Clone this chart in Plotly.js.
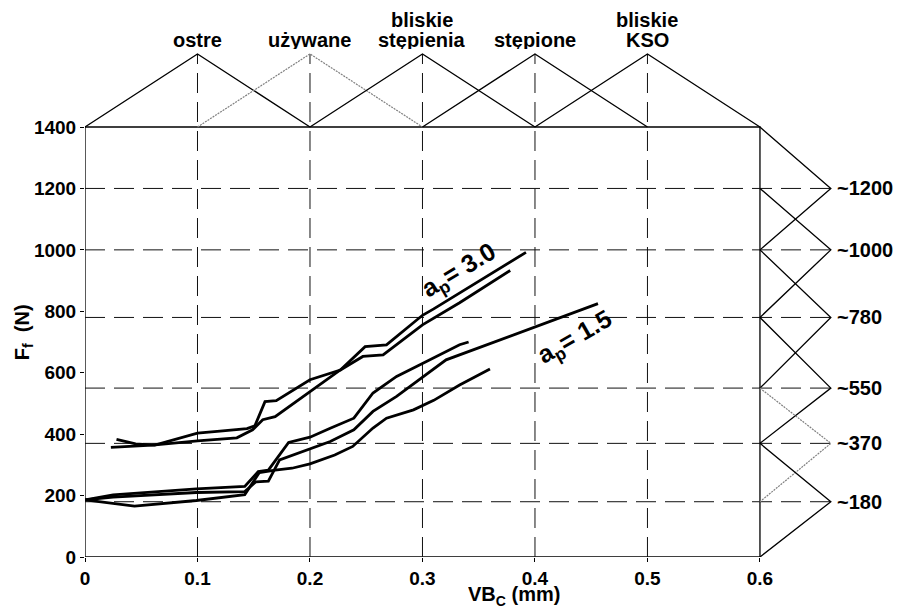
<!DOCTYPE html>
<html><head><meta charset="utf-8">
<script src="https://cdn.plot.ly/plotly-3.0.1.min.js"></script>
<style>html,body{margin:0;padding:0;background:#fff}#chart{width:901px;height:611px}</style>
</head><body><div id="chart"></div>
<script>
// ---- data ----
// a_p = 3.0 (two runs)
const ap30_runA_x = [0.028, 0.045, 0.062, 0.100, 0.120, 0.144, 0.151, 0.160, 0.170, 0.200, 0.227, 0.249, 0.268, 0.300, 0.310, 0.392];
const ap30_runA_y = [383, 368, 364, 403, 410, 418, 427, 506, 509, 577, 609, 685, 691, 787, 808, 992];
const ap30_runB_x = [0.023, 0.060, 0.100, 0.135, 0.149, 0.158, 0.169, 0.200, 0.227, 0.247, 0.265, 0.300, 0.333, 0.378];
const ap30_runB_y = [357, 364, 378, 388, 414, 447, 457, 539, 609, 653, 658, 756, 828, 933];
// a_p = 1.5 (three runs)
const ap15_run1_x = [0, 0.025, 0.099, 0.142, 0.154, 0.163, 0.181, 0.200, 0.218, 0.239, 0.256, 0.277, 0.300, 0.333, 0.341];
const ap15_run1_y = [186, 202, 222, 230, 278, 283, 373, 390, 419, 452, 534, 588, 630, 691, 700];
const ap15_run2_x = [0, 0.025, 0.099, 0.142, 0.152, 0.163, 0.173, 0.200, 0.218, 0.239, 0.256, 0.277, 0.300, 0.321, 0.456];
const ap15_run2_y = [186, 195, 210, 213, 245, 247, 316, 352, 376, 414, 474, 523, 585, 642, 825];
const ap15_run3_x = [0, 0.044, 0.099, 0.142, 0.155, 0.169, 0.184, 0.200, 0.222, 0.238, 0.256, 0.268, 0.292, 0.310, 0.333, 0.360];
const ap15_run3_y = [186, 166, 184, 203, 275, 283, 289, 303, 332, 360, 420, 452, 479, 510, 560, 612];

// membership sets: wear states (top) and force levels (right)
const wearCenters = [0.1, 0.2, 0.3, 0.4, 0.5];
const wearLabelLine1 = ['', '', 'bliskie', '', 'bliskie'];
const wearLabelLine2 = ['ostre', 'używane', 'stępienia', 'stępione', 'KSO'];
const wearGray = [false, true, false, false, false];
const forceCenters = [1200, 1000, 780, 550, 370, 180];
const forceLabels = ['~1200', '~1000', '~780', '~550', '~370', '~180'];
const forceGray = [false, false, false, false, true, false];

const xTickVals = [0, 0.1, 0.2, 0.3, 0.4, 0.5, 0.6];
const xTickText = ['0', '0.1', '0.2', '0.3', '0.4', '0.5', '0.6'];
const yTickVals = [0, 200, 400, 600, 800, 1000, 1200, 1400];
const yTickText = ['0', '200', '400', '600', '800', '1000', '1200', '1400'];

// ---- geometry ----
const X_MAX = 0.6, Y_MAX = 1400;
const TOP_PEAK = 1638;    // apex of wear membership triangles (data units)
const RIGHT_PEAK = 0.663; // apex of force membership triangles (data units)
const FONT = 'Arial, "Liberation Sans", sans-serif';
const BLACK = '#000';
const GRAY = '#808080';

const traces = [];
// dashed guide lines
wearCenters.forEach(c => traces.push({x: [c, c], y: [0, TOP_PEAK], mode: 'lines',
  line: {color: '#111', width: 1, dash: '20px,9px'}, hoverinfo: 'skip'}));
forceCenters.forEach(v => traces.push({x: [0, RIGHT_PEAK], y: [v, v], mode: 'lines',
  line: {color: '#111', width: 1, dash: '20px,9px'}, hoverinfo: 'skip'}));
// top triangles
wearCenters.forEach((c, i) => {
  const l = i === 0 ? 0 : wearCenters[i - 1];
  const r = i === wearCenters.length - 1 ? X_MAX : wearCenters[i + 1];
  traces.push({x: [l, c, r], y: [Y_MAX, TOP_PEAK, Y_MAX], mode: 'lines',
    line: wearGray[i] ? {color: GRAY, width: 1.2, dash: '2px,1px'} : {color: BLACK, width: 1.3},
    hoverinfo: 'skip'});
});
// right triangles
forceCenters.forEach((v, i) => {
  const u = i === 0 ? Y_MAX : forceCenters[i - 1];
  const d = i === forceCenters.length - 1 ? 0 : forceCenters[i + 1];
  traces.push({x: [X_MAX, RIGHT_PEAK, X_MAX], y: [u, v, d], mode: 'lines',
    line: forceGray[i] ? {color: GRAY, width: 1.2, dash: '2px,1px'} : {color: BLACK, width: 1.3},
    hoverinfo: 'skip'});
});
// measured curves
[[ap30_runA_x, ap30_runA_y], [ap30_runB_x, ap30_runB_y],
 [ap15_run1_x, ap15_run1_y], [ap15_run2_x, ap15_run2_y], [ap15_run3_x, ap15_run3_y]]
  .forEach(([xs, ys]) => traces.push({x: xs, y: ys, mode: 'lines',
    line: {color: BLACK, width: 2.8}, hoverinfo: 'skip'}));

const tickFont = {family: FONT, size: 19, weight: 'bold', color: BLACK};
const labelFont = {family: FONT, size: 20, weight: 'bold', color: BLACK};
const annotations = [];
wearCenters.forEach((c, i) => {
  if (wearLabelLine1[i]) annotations.push({x: c, y: 1748, xref: 'x', yref: 'y', text: wearLabelLine1[i],
    showarrow: false, xanchor: 'center', yanchor: 'middle', height: 18, font: labelFont});
  annotations.push({x: c, y: 1682, xref: 'x', yref: 'y', text: wearLabelLine2[i],
    showarrow: false, xanchor: 'center', yanchor: 'middle', height: 18, font: labelFont});
});
forceCenters.forEach((v, i) => annotations.push({x: 0.667, y: v, xref: 'x', yref: 'y', text: forceLabels[i],
  showarrow: false, xanchor: 'left', yanchor: 'middle', font: labelFont}));
annotations.push({x: -0.0816, y: 0.411, xref: 'paper', yref: 'paper', text: 'F<sub>f</sub>  (N)', textangle: -90,
  showarrow: false, xanchor: 'center', yanchor: 'middle', font: labelFont});
annotations.push({x: 0.5645, y: -0.072, xref: 'paper', yref: 'paper', text: 'VB<sub>C</sub> (mm)',
  showarrow: false, xanchor: 'center', yanchor: 'middle', height: 20, font: labelFont});
annotations.push({x: 0.333, y: 930, xref: 'x', yref: 'y', text: 'a<sub>p</sub>= 3.0', textangle: -31,
  showarrow: false, xanchor: 'center', yanchor: 'middle', font: {family: FONT, size: 25, weight: 'bold', color: BLACK}});
annotations.push({x: 0.436, y: 712, xref: 'x', yref: 'y', text: 'a<sub>p</sub>= 1.5', textangle: -30,
  showarrow: false, xanchor: 'center', yanchor: 'middle', font: {family: FONT, size: 25, weight: 'bold', color: BLACK}});

const layout = {
  width: 901, height: 611,
  margin: {l: 85, r: 56, t: 10, b: 54, pad: 0},
  paper_bgcolor: '#fff', plot_bgcolor: '#fff',
  showlegend: false, hovermode: false,
  xaxis: {range: [0, 0.6756], showgrid: false, zeroline: false, showline: false,
    tickmode: 'array', tickvals: xTickVals, ticktext: xTickText, ticks: 'outside', ticklen: 4,
    tickcolor: BLACK, tickwidth: 1, tickfont: tickFont, fixedrange: true},
  yaxis: {range: [0, 1781], showgrid: false, zeroline: false, showline: false,
    tickmode: 'array', tickvals: yTickVals, ticktext: yTickText, ticks: 'outside', ticklen: 4,
    tickcolor: BLACK, tickwidth: 1, tickfont: tickFont, fixedrange: true},
  shapes: [{type: 'rect', xref: 'x', yref: 'y', x0: 0, x1: X_MAX, y0: 0, y1: Y_MAX,
    line: {color: BLACK, width: 1.3}, layer: 'below'}],
  annotations: annotations
};
Plotly.newPlot('chart', traces, layout, {displayModeBar: false, staticPlot: true});
</script></body></html>
